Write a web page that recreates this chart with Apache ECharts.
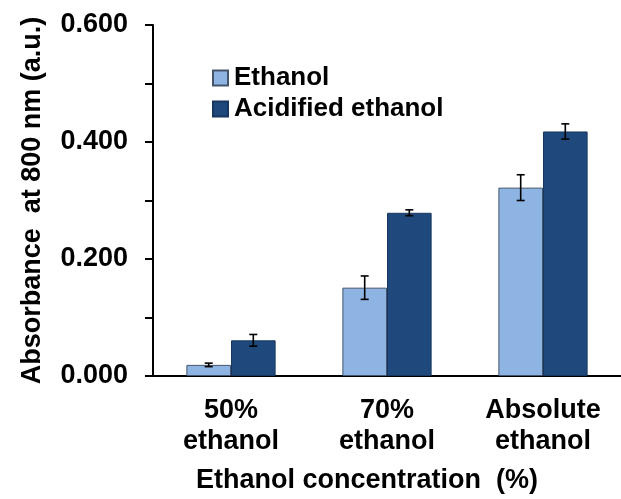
<!DOCTYPE html>
<html>
<head>
<meta charset="utf-8">
<script src="https://cdn.jsdelivr.net/npm/echarts@6/dist/echarts.min.js"></script>
<style>
  html, body { margin: 0; padding: 0; background: #fff; }
  #chart { width: 621px; height: 499px; }
</style>
</head>
<body>
<div id="chart"></div>
<script>
// Absorbance at 800 nm for each extraction solvent
const categories = ['50%\nethanol', '70%\nethanol', 'Absolute\nethanol'];
const seriesNames = ['Ethanol', 'Acidified ethanol'];
const ethanolValues = [0.019, 0.151, 0.322];
const ethanolErrors = [0.003, 0.020, 0.022];
const acidifiedValues = [0.061, 0.279, 0.418];
const acidifiedErrors = [0.010, 0.005, 0.013];
const yTickLabels = ['0.000', '0.200', '0.400', '0.600'];

const FONT = 'Liberation Sans, Arial, sans-serif';
const BAR_PCT = 0.286; // bar width as a share of the category band

function errorSeries(values, errors, side) {
  return {
    type: 'custom',
    z: 10,
    silent: true,
    data: values.map((v, i) => [i, v, errors[i]]),
    renderItem(params, api) {
      const i = api.value(0), v = api.value(1), e = api.value(2);
      const band = api.size([1, 0])[0];
      const off = side * band * BAR_PCT / 2;
      const top = api.coord([i, v + e]);
      const bot = api.coord([i, v - e]);
      const x = top[0] + off;
      const cap = 4;
      const style = { stroke: '#000', lineWidth: 1.6 };
      return {
        type: 'group',
        children: [
          { type: 'line', shape: { x1: x, y1: top[1], x2: x, y2: bot[1] }, style },
          { type: 'line', shape: { x1: x - cap, y1: top[1], x2: x + cap, y2: top[1] }, style },
          { type: 'line', shape: { x1: x - cap, y1: bot[1], x2: x + cap, y2: bot[1] }, style }
        ]
      };
    }
  };
}

const chart = echarts.init(document.getElementById('chart'), null, { renderer: 'canvas' });
chart.setOption({
  animation: false,
  backgroundColor: '#ffffff',
  textStyle: { fontFamily: FONT },
  grid: { left: 153, top: 25, width: 477, height: 351, containLabel: false },
  legend: {
    orient: 'vertical',
    left: 207,
    top: 60,
    itemWidth: 15,
    itemHeight: 15,
    itemGap: 5,
    icon: 'rect',
    data: seriesNames,
    textStyle: { fontFamily: FONT, fontWeight: 'bold', fontSize: 26, color: '#000', padding: [0, 0, 0, 1] }
  },
  xAxis: {
    type: 'category',
    data: categories,
    axisLine: { lineStyle: { color: '#000', width: 2 } },
    axisTick: { show: false },
    axisLabel: {
      margin: 19,
      fontFamily: FONT, fontWeight: 'bold', fontSize: 27, color: '#000', lineHeight: 31
    },
    name: 'Ethanol concentration  (%)',
    nameLocation: 'middle',
    nameGap: 91,
    nameTextStyle: { fontFamily: FONT, fontWeight: 'bold', fontSize: 27, color: '#000', padding: [0, 40, 0, 0] }
  },
  yAxis: {
    type: 'value',
    min: 0,
    max: 0.6,
    interval: 0.1,
    splitLine: { show: false },
    axisLine: { show: true, lineStyle: { color: '#000', width: 2 } },
    axisTick: { show: true, length: 8, lineStyle: { color: '#000', width: 2 } },
    axisLabel: {
      margin: 25,
      fontFamily: FONT, fontWeight: 'bold', fontSize: 27, color: '#000',
      formatter: (v) => {
        const s = v.toFixed(3);
        return yTickLabels.includes(s) ? s : '';
      }
    },
    name: 'Absorbance  at 800 nm (a.u.)',
    nameLocation: 'middle',
    nameGap: 107,
    nameRotate: 90,
    nameTextStyle: { fontFamily: FONT, fontWeight: 'bold', fontSize: 27, color: '#000' }
  },
  series: [
    {
      name: seriesNames[0],
      type: 'bar',
      data: ethanolValues,
      barWidth: (BAR_PCT * 100) + '%',
      barGap: '0%',
      itemStyle: { color: '#8EB4E3', borderColor: '#44546A', borderWidth: 1 }
    },
    {
      name: seriesNames[1],
      type: 'bar',
      data: acidifiedValues,
      barWidth: (BAR_PCT * 100) + '%',
      barGap: '0%',
      itemStyle: { color: '#1F497D', borderColor: '#17375E', borderWidth: 1 }
    },
    errorSeries(ethanolValues, ethanolErrors, -1),
    errorSeries(acidifiedValues, acidifiedErrors, 1)
  ]
});
</script>
</body>
</html>
